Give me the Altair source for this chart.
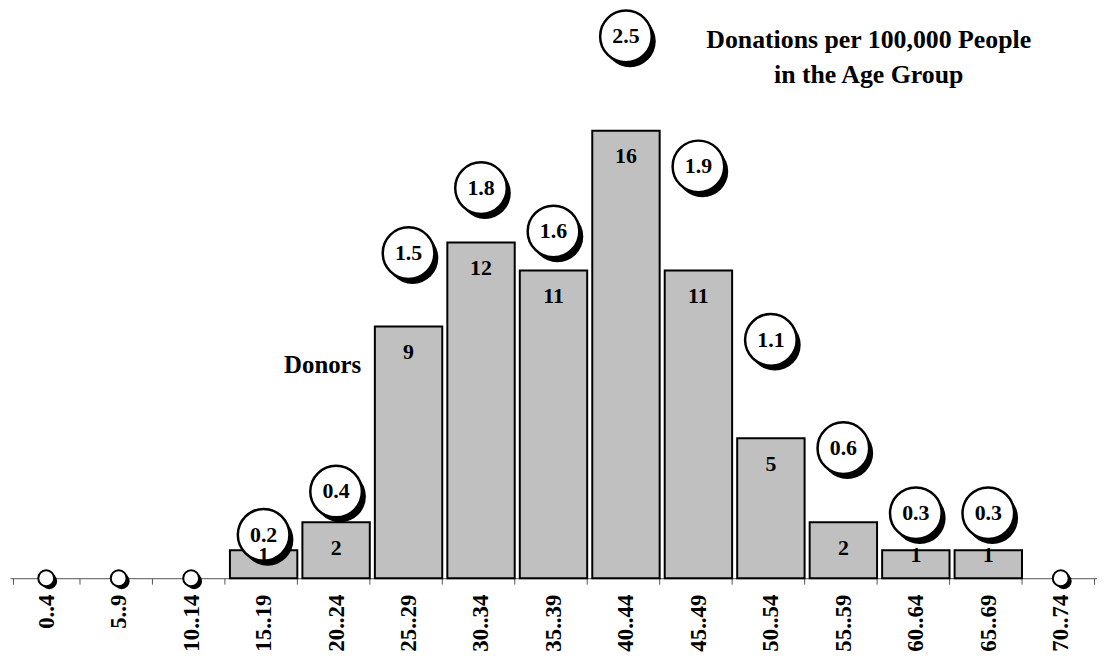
import altair as alt
import pandas as pd

ages = ["0..4", "5..9", "10..14", "15..19", "20..24", "25..29", "30..34", "35..39",
        "40..44", "45..49", "50..54", "55..59", "60..64", "65..69", "70..74"]
donors = [0, 0, 0, 1, 2, 9, 12, 11, 16, 11, 5, 2, 1, 1, 0]
rates = [0, 0, 0, 0.2, 0.4, 1.5, 1.8, 1.6, 2.5, 1.9, 1.1, 0.6, 0.3, 0.3, 0]

df = pd.DataFrame({"age": ages, "donors": donors, "rate": rates})

FONT = "Liberation Serif"
COUNT_DOMAIN = [0, 20.3]
RATE_DOMAIN = [0, 2.62]
BIG = 2704
SMALL = 256

xscale = alt.Scale(domain=ages, paddingInner=0.07, paddingOuter=0.035)
xaxis = alt.Axis(
    title=None, labelAngle=270, labelFont=FONT, labelFontWeight="bold",
    labelFontSize=23, labelColor="black", tickBand="extent", tickSize=6,
    tickColor="#555", domainColor="#555", labelPadding=10, labelOverlap=False)
xenc = alt.X("age:N", scale=xscale, axis=xaxis)


def y_count(field):
    return alt.Y(field, scale=alt.Scale(domain=COUNT_DOMAIN, nice=False, zero=True), axis=None)


y_rate = alt.Y("rate:Q", scale=alt.Scale(domain=RATE_DOMAIN, nice=False, zero=True), axis=None)

base = alt.Chart(df)

bars = base.transform_filter("datum.donors > 0").mark_bar(
    color="#c0c0c0", stroke="black", strokeWidth=2
).encode(x=xenc, y=y_count("donors:Q"))

big = base.transform_filter("datum.rate > 0")
small = base.transform_filter("datum.rate <= 0")

shadow_big = big.mark_point(shape="circle", filled=True, color="black", opacity=1,
                            size=BIG, xOffset=4, yOffset=5).encode(x=xenc, y=y_rate)
circle_big = big.mark_point(shape="circle", filled=True, fill="white", stroke="black",
                            strokeWidth=2.5, opacity=1, size=BIG).encode(x=xenc, y=y_rate)
shadow_small = small.mark_point(shape="circle", filled=True, color="black", opacity=1,
                                size=SMALL, xOffset=3, yOffset=3).encode(x=xenc, y=y_rate)
circle_small = small.mark_point(shape="circle", filled=True, fill="white", stroke="black",
                                strokeWidth=2, opacity=1, size=SMALL).encode(x=xenc, y=y_rate)

circle_text = big.mark_text(font=FONT, fontWeight="bold", fontSize=22, color="black",
                            baseline="middle").encode(
    x=xenc, y=y_rate, text=alt.Text("rate:Q", format=".1f"))

bar_text = base.transform_filter("datum.donors > 0").transform_calculate(
    labelY="datum.donors >= 2 ? datum.donors - 0.92 : datum.donors - 0.18"
).mark_text(font=FONT, fontWeight="bold", fontSize=22, color="black",
            baseline="middle").encode(
    x=xenc, y=y_count("labelY:Q"), text="donors:Q")

title1 = alt.Chart().mark_text(font=FONT, fontWeight="bold", fontSize=26, color="black",
                               align="center", baseline="middle").encode(
    x=alt.value(865), y=alt.value(30), text=alt.value("Donations per 100,000 People"))
title2 = alt.Chart().mark_text(font=FONT, fontWeight="bold", fontSize=26, color="black",
                               align="center", baseline="middle").encode(
    x=alt.value(865), y=alt.value(65), text=alt.value("in the Age Group"))
donors_lbl = alt.Chart().mark_text(font=FONT, fontWeight="bold", fontSize=25, color="black",
                                   align="center", baseline="middle").encode(
    x=alt.value(315), y=alt.value(357), text=alt.value("Donors"))

chart = alt.layer(
    bars, shadow_big, circle_big, shadow_small, circle_small, circle_text, bar_text,
    title1, title2, donors_lbl
).resolve_scale(y="independent").properties(
    width=1095, height=572,
    autosize=alt.AutoSizeParams(type="none"),
    padding={"left": 2, "top": 0, "right": 0, "bottom": 82},
    background="white",
).configure_view(stroke=None)

chart.save("out.html", embed_options={"renderer": "svg", "actions": False})
